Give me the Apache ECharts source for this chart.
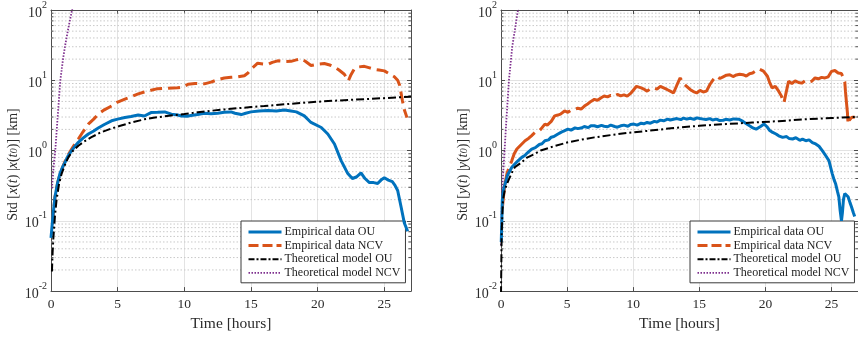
<!DOCTYPE html>
<html><head><meta charset="utf-8">
<script src="https://cdn.jsdelivr.net/npm/echarts@6/dist/echarts.min.js"></script>
<style>html,body{margin:0;padding:0;background:#fff}#c{width:858px;height:337px}</style>
</head><body><div id="c"></div>
<script>
// ---------- data ----------
const X_TICKS = [0, 5, 10, 15, 20, 25];
const Y_TICKS = [0.01, 0.1, 1, 10, 100];
const Y_MINOR = [0.02,0.03,0.04,0.05,0.06,0.07,0.08,0.09,0.2,0.3,0.4,0.5,0.6,0.7,0.8,0.9,2,3,4,5,6,7,8,9,20,30,40,50,60,70,80,90];
const SERIES_NAMES = ['Empirical data OU', 'Empirical data NCV', 'Theoretical model OU', 'Theoretical model NCV'];

// Left panel: x
const L_OU_T = [0,0.15,0.3,0.5,0.67,0.85,1.05,1.3,1.55,1.8,2.05,2.4,2.8,3.2,3.54,4.0,4.54,5.0,5.54,6.0,6.54,7.0,7.5,8.0,8.53,9.03,9.5,9.78,10.2,10.5,11.0,11.5,12.0,12.5,13.0,13.5,13.8,14.27,14.6,15.0,15.6,16.27,16.9,17.5,18.0,18.4,19.0,19.5,20.27,20.76,21.26,21.76,22.26,22.6,22.9,23.25,23.55,23.88,24.2,24.5,24.75,25.0,25.3,25.6,25.8,26.0,26.25,26.5,26.75];
const L_OU_V = [0.057,0.12,0.22,0.35,0.47,0.57,0.68,0.85,1.0,1.15,1.31,1.5,1.72,1.9,2.09,2.35,2.65,2.8,2.95,3.05,3.21,3.1,3.47,3.5,3.55,3.3,3.2,3.11,3.08,3.15,3.25,3.4,3.35,3.4,3.5,3.55,3.4,3.25,3.4,3.55,3.65,3.72,3.65,3.78,3.65,3.55,3.11,2.51,2.13,1.72,1.24,0.72,0.47,0.40,0.42,0.48,0.40,0.35,0.35,0.34,0.38,0.41,0.38,0.36,0.32,0.27,0.16,0.093,0.071];
const L_NCV_T = [0.1,0.3,0.5,0.7,1.05,1.3,1.55,1.8,2.05,2.4,2.8,3.2,3.54,4.0,4.54,5.0,5.54,6.0,6.54,7.0,7.5,8.0,8.78,9.5,9.9,10.28,10.8,11.5,12.0,12.5,13.0,13.5,14.0,14.5,14.77,15.1,15.5,15.9,16.27,16.6,17.0,17.5,18.0,18.4,18.76,19.1,19.5,19.9,20.5,20.9,21.25,21.6,22.0,22.3,22.5,22.75,23.1,23.5,23.9,24.25,24.6,25.0,25.4,25.75,26.0,26.15,26.35,26.5,26.7];
const L_NCV_V = [0.09,0.22,0.35,0.48,0.7,0.88,1.05,1.25,1.46,1.85,2.38,2.8,3.29,3.8,4.3,4.9,5.4,5.8,6.4,6.8,7.2,7.6,7.7,7.8,8.0,8.8,9.0,8.9,9.4,10.2,10.8,11.0,11.2,11.6,12.7,15.0,17.5,17.0,16.8,18.0,18.9,18.5,18.6,19.5,20.2,18.5,16.2,16.8,17.3,16.5,15.5,14.0,12.2,9.8,12.0,14.5,15.5,15.8,15.0,14.3,14.0,13.6,12.3,11.2,10.0,8.5,5.2,3.8,2.94];
const L_TOU_T = [0.07,0.12,0.17,0.3,0.42,0.6,0.8,1.05,1.3,1.6,2.05,2.5,3.0,3.7,4.5,5.2,6.0,7.0,7.8,9.0,10,11,12,13,14,15,16,17.5,19,20,21.5,22.5,24,25,26,27];
const L_TOU_V = [0.019,0.035,0.054,0.12,0.2,0.33,0.47,0.63,0.8,0.97,1.17,1.35,1.54,1.8,2.05,2.25,2.5,2.78,2.95,3.15,3.3,3.5,3.68,3.85,4.0,4.15,4.3,4.55,4.8,4.95,5.15,5.28,5.45,5.57,5.7,5.85];
const L_TNCV_T = [0.07,0.2,0.32,0.5,0.7,0.9,1.07,1.3,1.6];
const L_TNCV_V = [0.29,0.6,1.0,3.0,10,20,32,55,105];

// Right panel: y
const R_OU_T = [0.02,0.1,0.2,0.32,0.5,0.82,1.1,1.3,1.57,1.8,2.0,2.32,2.6,2.9,3.1,3.32,3.6,3.8,4.0,4.31,4.5,4.7,5.06,5.3,5.6,5.8,6.06,6.3,6.6,6.8,7.06,7.3,7.6,7.8,8.06,8.3,8.6,8.8,9.06,9.3,9.6,9.8,10.05,10.3,10.6,10.8,11.05,11.3,11.6,11.8,12.05,12.3,12.6,12.8,13.05,13.3,13.6,13.8,14.05,14.3,14.6,14.8,15.05,15.3,15.5,15.8,16.0,16.3,16.5,16.8,17.0,17.3,17.6,18.0,18.3,18.5,18.8,19.05,19.3,19.6,19.9,20.1,20.3,20.55,20.8,21.0,21.3,21.6,21.8,22.05,22.3,22.6,22.8,23.05,23.3,23.55,23.8,24.05,24.3,24.55,24.8,25.05,25.2,25.3,25.45,25.55,25.65,25.75,25.82,25.9,26.0,26.1,26.25,26.4,26.5,26.65,26.75];
const R_OU_V = [0.05,0.2,0.28,0.34,0.45,0.58,0.66,0.72,0.8,0.85,0.93,1.05,1.1,1.22,1.25,1.38,1.42,1.55,1.58,1.72,1.8,1.88,2.02,1.95,2.1,2.05,2.09,2.2,2.12,2.25,2.25,2.18,2.28,2.22,2.18,2.3,2.2,2.15,2.25,2.3,2.22,2.35,2.38,2.3,2.45,2.4,2.51,2.45,2.6,2.55,2.71,2.65,2.8,2.72,2.79,2.85,2.75,2.9,2.8,2.88,2.78,2.92,2.85,2.8,2.76,2.85,2.72,2.8,2.68,2.7,2.78,2.72,2.82,2.79,2.6,2.45,2.25,2.1,2.02,2.18,2.38,2.2,1.95,1.81,1.72,1.62,1.54,1.58,1.48,1.46,1.52,1.4,1.45,1.38,1.42,1.3,1.24,1.15,1.0,0.85,0.72,0.47,0.38,0.34,0.26,0.22,0.14,0.1,0.13,0.2,0.245,0.23,0.22,0.18,0.16,0.13,0.115];
const R_NCV_T = [0.1,0.27,0.45,0.62,0.82,1.0,1.2,1.5,1.82,2.1,2.3,2.57,2.8,3.0,3.32,3.5,3.8,4.06,4.3,4.5,4.81,5.06,5.3,5.56,5.8,6.06,6.31,6.55,6.8,7.06,7.3,7.55,7.8,8.05,8.3,8.55,8.8,9.05,9.3,9.55,9.8,10.05,10.25,10.4,10.6,10.8,11.05,11.3,11.55,11.8,12.05,12.3,12.55,12.8,13.05,13.3,13.55,13.8,14.04,14.3,14.55,14.8,15.05,15.3,15.54,15.8,16.05,16.3,16.55,16.8,17.05,17.3,17.55,17.8,18.05,18.3,18.55,18.8,19.03,19.3,19.5,19.65,19.85,20.0,20.15,20.3,20.5,20.75,21.0,21.2,21.4,21.55,21.75,22.0,22.25,22.5,22.75,23.0,23.25,23.5,23.75,24.0,24.25,24.5,24.75,25.0,25.25,25.5,25.75,25.9,26.0,26.05,26.12,26.2,26.25,26.35,26.5,26.65,26.75];
const R_NCV_V = [0.15,0.31,0.47,0.58,0.72,0.9,1.05,1.2,1.38,1.5,1.62,1.81,1.85,2.0,2.38,2.3,2.6,3.11,3.2,3.3,3.66,3.5,3.75,3.87,4.0,3.9,4.3,4.6,5.0,5.35,5.2,5.6,5.96,5.8,6.1,5.9,6.28,6.0,6.2,5.96,6.5,7.4,8.2,8.7,7.8,7.5,7.0,7.6,7.8,7.5,8.2,7.8,7.4,7.0,6.6,8.5,10.8,9.0,8.2,7.4,6.9,6.6,7.2,6.8,7.0,8.7,10.2,11.4,10.6,11.2,11.8,12.0,11.3,11.9,12.2,12.0,11.5,12.4,12.7,13.8,14.5,15.2,13.5,12.7,11.4,9.5,7.8,8.2,7.0,6.0,4.8,6.5,9.7,9.0,9.8,9.3,9.1,9.8,9.4,9.7,10.8,10.5,11.0,10.8,11.2,13.4,13.8,12.7,12.5,12.0,9.5,7.0,5.0,3.47,2.38,2.7,2.95,3.1,3.0];
const R_TOU_T = [0.0,0.05,0.15,0.3,0.57,0.9,1.05,1.57,2.0,2.57,3.0,4.0,5.0,6.0,7.06,8.3,9.55,11.0,13.05,15.0,17.0,19.0,21.0,23.0,25.0,27.0];
const R_TOU_V = [0.009,0.068,0.2,0.28,0.38,0.52,0.58,0.68,0.8,0.9,1.0,1.15,1.3,1.42,1.54,1.66,1.78,1.9,2.09,2.25,2.38,2.5,2.62,2.78,2.9,3.02];
const R_TNCV_T = [0.0,0.03,0.1,0.27,0.42,0.6,0.85,1.1,1.3];
const R_TNCV_V = [0.045,0.1,0.3,1.0,3.0,10,30,60,105];

// ---------- styling ----------
const FONT = 'Liberation Serif';
const TXT = '#2b2b2b';
const AX = '#4d4d4d';
const C_OU = '#0072BD', C_NCV = '#D95319', C_T = '#000000', C_TN = '#7E2F8E';
const XMIN = 0, XMAX = 27;
const DASH_T = [8, 3, 2, 3], DASH_TN = [1.5, 1.5];

const pairs = (t, v) => t.map((x, i) => [x, v[i]]);

function xAxes(g) {
  return [
    { gridIndex: g, type: 'value', min: XMIN, max: XMAX, interval: 5, position: 'bottom',
      name: 'Time [hours]', nameLocation: 'middle', nameGap: 22,
      nameTextStyle: { fontFamily: FONT, fontSize: 15.5, color: TXT },
      axisLine: { show: true, onZero: false, lineStyle: { color: AX, width: 1 } },
      axisTick: { show: true, inside: true, length: 4, lineStyle: { color: AX } },
      axisLabel: { fontFamily: FONT, fontSize: 13.5, color: TXT, margin: 6, showMaxLabel: false },
      splitLine: { show: true, lineStyle: { color: '#e3e3e3', width: 1 } } },
    { gridIndex: g, type: 'value', min: XMIN, max: XMAX, interval: 5, position: 'top',
      axisLine: { show: true, onZero: false, lineStyle: { color: AX, width: 1 } },
      axisTick: { show: true, inside: true, length: 4, lineStyle: { color: AX } },
      axisLabel: { show: false }, splitLine: { show: false } }
  ];
}
function yAxes(g, nameRich) {
  const fs = 14;
  return [
    { gridIndex: g, type: 'log', logBase: 10, min: 0.01, max: 100, position: 'left',
      name: nameRich, nameLocation: 'middle', nameGap: 31, nameRotate: 90,
      nameTextStyle: { fontFamily: FONT, fontSize: fs, color: TXT, padding: [0, 28, 0, 0],
        rich: {
          r: { fontFamily: FONT, fontSize: fs, color: TXT },
          it: { fontFamily: FONT, fontSize: fs, fontStyle: 'italic', color: TXT },
          sub: { fontFamily: FONT, fontSize: 10.5, fontStyle: 'italic', color: TXT, verticalAlign: 'bottom', lineHeight: 11 }
        } },
      axisLine: { show: true, onZero: false, lineStyle: { color: AX, width: 1 } },
      axisTick: { show: true, inside: true, length: 4, lineStyle: { color: AX } },
      axisLabel: { margin: 4, color: TXT,
        formatter: v => '{b|10}{s|' + Math.round(Math.log10(v)) + '}',
        rich: {
          b: { fontFamily: FONT, fontSize: 14, color: TXT, lineHeight: 20, verticalAlign: 'bottom' },
          s: { fontFamily: FONT, fontSize: 10, color: TXT, lineHeight: 10, verticalAlign: 'top' }
        } },
      splitLine: { show: true, lineStyle: { color: '#e3e3e3', width: 1 } } },
    { gridIndex: g, type: 'log', logBase: 10, min: 0.01, max: 100, position: 'right',
      axisLine: { show: true, onZero: false, lineStyle: { color: AX, width: 1 } },
      axisTick: { show: true, inside: true, length: 4, lineStyle: { color: AX } },
      axisLabel: { show: false }, splitLine: { show: false } }
  ];
}

function minorSeries(xi, yi) {
  return {
    type: 'custom', xAxisIndex: xi, yAxisIndex: yi, silent: true, z: 1,
    data: Y_MINOR.map(v => [XMIN, v]),
    encode: { x: 0, y: 1 },
    renderItem: (params, api) => {
      const v = api.value(1);
      const p1 = api.coord([XMIN, v]);
      const p2 = api.coord([XMAX, v]);
      return { type: 'group', children: [
        { type: 'line', shape: { x1: p1[0], y1: p1[1], x2: p2[0], y2: p2[1] },
          style: { stroke: '#c9c9c9', lineWidth: 1, lineDash: [1.5, 2] } },
        { type: 'line', shape: { x1: p1[0], y1: p1[1], x2: p1[0] + 2.5, y2: p1[1] },
          style: { stroke: AX, lineWidth: 1 } },
        { type: 'line', shape: { x1: p2[0], y1: p2[1], x2: p2[0] - 2.5, y2: p2[1] },
          style: { stroke: AX, lineWidth: 1 } }
      ] };
    }
  };
}

function dataSeries(xi, yi, ou, ncv, tou, tncv, ncvDash) {
  const base = { type: 'line', xAxisIndex: xi, yAxisIndex: yi, showSymbol: false, symbol: 'none', symbolSize: 0, smooth: false, animation: false, clip: true };
  return [
    Object.assign({}, base, { name: SERIES_NAMES[3], data: tncv, z: 3,
      lineStyle: { color: C_TN, width: 1.8, type: DASH_TN }, itemStyle: { color: C_TN } }),
    Object.assign({}, base, { name: SERIES_NAMES[1], data: ncv, z: 4,
      lineStyle: { color: C_NCV, width: 3, type: ncvDash }, itemStyle: { color: C_NCV } }),
    Object.assign({}, base, { name: SERIES_NAMES[0], data: ou, z: 5,
      lineStyle: { color: C_OU, width: 3 }, itemStyle: { color: C_OU } }),
    Object.assign({}, base, { name: SERIES_NAMES[2], data: tou, z: 6,
      lineStyle: { color: C_T, width: 2, type: DASH_T }, itemStyle: { color: C_T } })
  ];
}

function legend(left) {
  return {
    left: left, top: 221, orient: 'vertical',
    data: [
      { name: SERIES_NAMES[0], lineStyle: { color: C_OU, width: 3, type: 'solid' } },
      { name: SERIES_NAMES[1], lineStyle: { color: C_NCV, width: 3, type: [10, 4] } },
      { name: SERIES_NAMES[2], lineStyle: { color: C_T, width: 2, type: [6, 2, 2, 2] } },
      { name: SERIES_NAMES[3], lineStyle: { color: C_TN, width: 1.8, type: DASH_TN } }
    ],
    itemStyle: { opacity: 0, borderWidth: 0 },
    backgroundColor: '#ffffff', borderColor: '#3a3a3a', borderWidth: 1, borderRadius: 0,
    padding: [5, 5, 4, 6], itemWidth: 33, itemHeight: 12, itemGap: 1.6,
    selectedMode: false,
    textStyle: { fontFamily: FONT, fontSize: 12, color: '#222', padding: [0, 0, 0, -2] }
  };
}

const chart = echarts.init(document.getElementById('c'), null, { renderer: 'canvas' });
chart.setOption({
  animation: false,
  backgroundColor: '#ffffff',
  grid: [
    { left: 51, top: 8, width: 360, height: 284, containLabel: false },
    { left: 501, top: 8, width: 360, height: 284, containLabel: false }
  ],
  legend: [legend(241), legend(690)],
  xAxis: [...xAxes(0), ...xAxes(1)],
  yAxis: [
    ...yAxes(0, '{r|Std [}{it|x}{r|(}{it|t}{r|) |}{it|x}{r|(}{it|t}{sub|0}{r|)] [km]}'),
    ...yAxes(1, '{r|Std [}{it|y}{r|(}{it|t}{r|) |}{it|y}{r|(}{it|t}{sub|0}{r|)] [km]}')
  ],
  series: [
    minorSeries(0, 0), minorSeries(2, 2),
    ...dataSeries(0, 0, pairs(L_OU_T, L_OU_V), pairs(L_NCV_T, L_NCV_V), pairs(L_TOU_T, L_TOU_V), pairs(L_TNCV_T, L_TNCV_V), [12, 6]),
    ...dataSeries(2, 2, pairs(R_OU_T, R_OU_V), pairs(R_NCV_T, R_NCV_V), pairs(R_TOU_T, R_TOU_V), pairs(R_TNCV_T, R_TNCV_V), [40, 6])
  ]
});
</script></body></html>
